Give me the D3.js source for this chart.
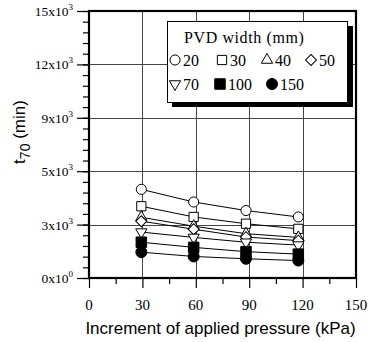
<!DOCTYPE html>
<html>
<head>
<meta charset="utf-8">
<script src="https://cdn.jsdelivr.net/npm/d3@7"></script>
<style>
  body { margin: 0; background: #fff; }
  svg { display: block; }
</style>
</head>
<body>
<div id="chart"></div>
<script>
// pressure increments (kPa) - points sit slightly left of the grid (0.3..1.2 kgf/cm2)
const pressures = [29.4, 58.8, 88.2, 117.6];

// t70 (min) for each PVD width
const widths = ['20', '30', '40', '50', '70', '100', '150'];
const t20 = [4980, 4270, 3790, 3430];
const t30 = [4030, 3430, 3050, 2760];
const t40 = [3410, 2910, 2490, 2280];
const t50 = [3190, 2740, 2300, 2100];
const t70 = [2580, 2280, 2010, 1850];
const t100 = [2010, 1720, 1480, 1340];
const t150 = [1450, 1210, 1080, 980];
const seriesValues = [t20, t30, t40, t50, t70, t100, t150];

// tick labels as printed on the original (note the "5x10^3" at 6000)
const yTicks = [0, 3000, 6000, 9000, 12000, 15000];
const yTickMant = ['0', '3', '5', '9', '12', '15'];
const yTickExp = ['0', '3', '3', '3', '3', '3'];
const xTicks = [0, 30, 60, 90, 120, 150];

const W = 369, H = 342;
const pl = 89, pt = 11, pr = 356, pb = 278;

const svg = d3.select('#chart').append('svg')
  .attr('width', W).attr('height', H);

const x = d3.scaleLinear().domain([0, 150]).range([pl, pr]);
const y = d3.scaleLinear().domain([0, 15000]).range([pb, pt]);

// marker shapes
const shapes = [
  { type: d3.symbolCircle, size: 80, fill: '#fff', rot: 0 },
  { type: d3.symbolSquare, size: 85, fill: '#fff', rot: 0 },
  { type: d3.symbolTriangle, size: 55, fill: '#fff', rot: 0 },
  { type: d3.symbolSquare, size: 60, fill: '#fff', rot: 45 },
  { type: d3.symbolTriangle, size: 55, fill: '#fff', rot: 180 },
  { type: d3.symbolSquare, size: 110, fill: '#000', rot: 0 },
  { type: d3.symbolCircle, size: 95, fill: '#000', rot: 0 }
];

// grid
const grid = svg.append('g').attr('stroke', '#444').attr('stroke-width', 1);
grid.selectAll('line.h').data(yTicks.slice(1, -1)).enter().append('line')
  .attr('x1', pl).attr('x2', pr)
  .attr('y1', d => Math.round(y(d)) + 0.5).attr('y2', d => Math.round(y(d)) + 0.5);
grid.selectAll('line.v').data(xTicks.slice(1, -1)).enter().append('line')
  .attr('y1', pt).attr('y2', pb)
  .attr('x1', d => Math.round(x(d)) + 0.5).attr('x2', d => Math.round(x(d)) + 0.5);

// axes (ticks outward, labels drawn separately)
const yAxis = d3.axisLeft(y).tickValues(yTicks).tickSize(12).tickFormat('');
const yMinor = d3.axisLeft(y).tickValues(d3.range(0, 15001, 600)).tickSize(6).tickFormat('');
const xAxis = d3.axisBottom(x).tickValues(xTicks).tickSize(10).tickFormat('');
const xMinor = d3.axisBottom(x).tickValues(d3.range(15, 150, 30)).tickSize(6).tickFormat('');

[svg.append('g').attr('transform', `translate(${pl},0)`).call(yMinor),
 svg.append('g').attr('transform', `translate(${pl},0)`).call(yAxis),
 svg.append('g').attr('transform', `translate(0,${pb})`).call(xMinor),
 svg.append('g').attr('transform', `translate(0,${pb})`).call(xAxis)]
  .forEach(g => {
    g.select('.domain').remove();
    g.selectAll('.tick line').attr('stroke', '#000').attr('stroke-width', 1.2);
  });

// y tick labels with superscript exponent
const yl = svg.append('g').attr('font-family', '"Liberation Serif", "Times New Roman", serif')
  .attr('font-size', 13.5).attr('fill', '#000');
yTicks.forEach((v, i) => {
  const t = yl.append('text')
    .attr('x', 73).attr('y', y(v) + 5)
    .attr('text-anchor', 'end');
  t.append('tspan').text(yTickMant[i] + 'x10');
  t.append('tspan').attr('font-size', 9).attr('dy', -6).text(yTickExp[i]);
});

// x tick labels
svg.append('g').selectAll('text').data(xTicks).enter().append('text')
  .attr('x', d => x(d)).attr('y', 310)
  .attr('text-anchor', 'middle')
  .attr('font-family', '"Liberation Serif", "Times New Roman", serif')
  .attr('font-size', 15)
  .text(d => d);

// series lines then markers
const line = d3.line().x((d, i) => x(pressures[i])).y(d => y(d));
svg.append('g').selectAll('path').data(seriesValues).enter().append('path')
  .attr('d', line).attr('fill', 'none').attr('stroke', '#000').attr('stroke-width', 1);

seriesValues.forEach((vals, s) => {
  const sh = shapes[s];
  svg.append('g').selectAll('path').data(vals).enter().append('path')
    .attr('d', d3.symbol().type(sh.type).size(sh.size))
    .attr('transform', (d, i) => `translate(${x(pressures[i])},${y(d)}) rotate(${sh.rot})`)
    .attr('fill', sh.fill).attr('stroke', '#000').attr('stroke-width', 1);
});

// frame
svg.append('rect')
  .attr('x', pl).attr('y', pt)
  .attr('width', pr - pl).attr('height', pb - pt)
  .attr('fill', 'none').attr('stroke', '#000').attr('stroke-width', 2.2);

// legend with drop shadow
const lg = svg.append('g');
lg.append('rect').attr('x', 172).attr('y', 26).attr('width', 181).attr('height', 81).attr('fill', '#000');
lg.append('rect').attr('x', 167.5).attr('y', 21.5).attr('width', 180).attr('height', 81)
  .attr('fill', '#fff').attr('stroke', '#000').attr('stroke-width', 1);
lg.append('text').attr('x', 184).attr('y', 43)
  .attr('font-family', '"Liberation Serif", "Times New Roman", serif')
  .attr('font-size', 16).attr('letter-spacing', 0.6)
  .text('PVD width (mm)');

const legendPos = [
  [175, 60], [222, 60], [267, 60], [311, 60],
  [175, 84], [220, 84], [272, 84]
];
widths.forEach((w, s) => {
  const sh = shapes[s];
  const [lx, ly] = legendPos[s];
  lg.append('path')
    .attr('d', d3.symbol().type(sh.type).size(sh.size))
    .attr('transform', `translate(${lx},${ly}) rotate(${sh.rot})`)
    .attr('fill', sh.fill).attr('stroke', '#000').attr('stroke-width', 1);
  lg.append('text').attr('x', lx + 8).attr('y', ly + 6)
    .attr('font-family', '"Liberation Serif", "Times New Roman", serif')
    .attr('font-size', 16).text(w);
});

// axis titles
svg.append('text')
  .attr('x', (pl + pr) / 2 - 2).attr('y', 334)
  .attr('text-anchor', 'middle')
  .attr('font-family', '"Liberation Sans", Arial, sans-serif')
  .attr('font-size', 17)
  .text('Increment of applied pressure (kPa)');

const yt = svg.append('text')
  .attr('transform', 'translate(25,132) rotate(-90)')
  .attr('text-anchor', 'middle')
  .attr('font-family', '"Liberation Sans", Arial, sans-serif')
  .attr('font-size', 17);
yt.append('tspan').text('t');
yt.append('tspan').attr('font-size', 14).attr('dy', 5).text('70');
yt.append('tspan').attr('dy', -5).text(' (min)');
</script>
</body>
</html>
